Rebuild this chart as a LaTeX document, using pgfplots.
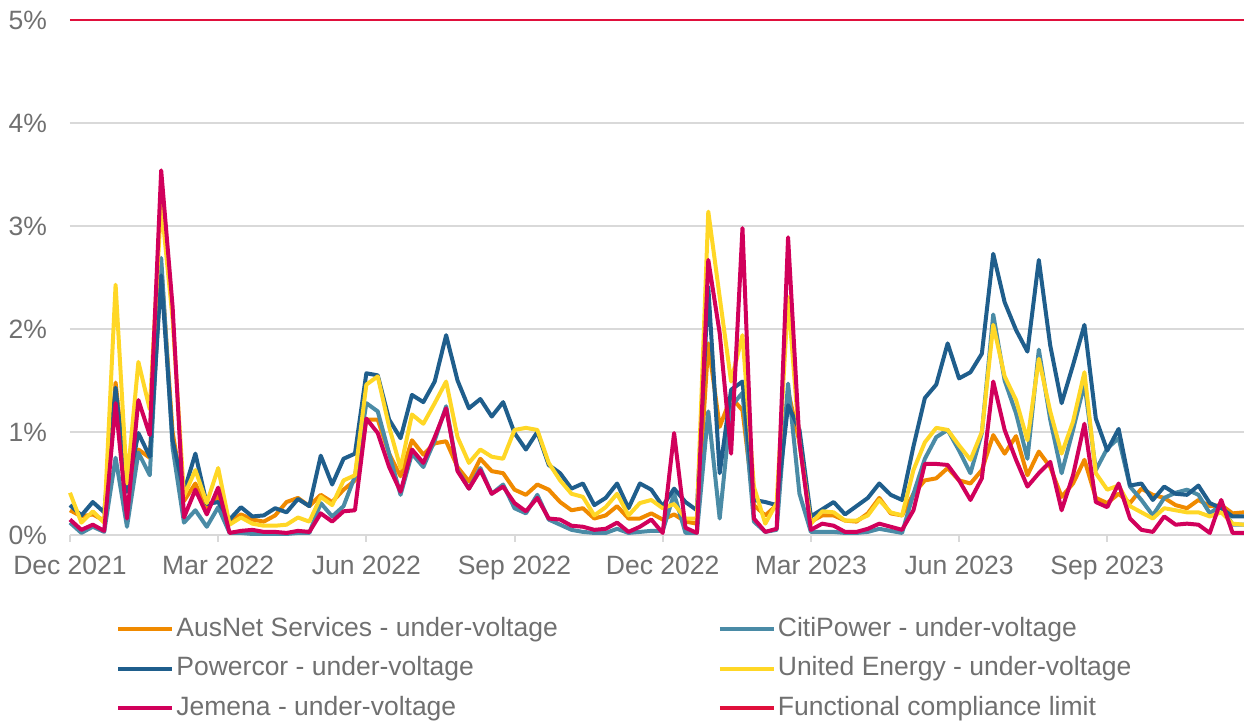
\documentclass[border=0pt]{standalone}
\usepackage{fontspec}
\setmainfont{Liberation Sans}
\usepackage{xcolor}
\usepackage{pgfplots}
\usepackage{pgfplotstable}
\pgfplotsset{compat=1.18}
\definecolor{ausnet}{HTML}{F08A00}
\definecolor{citi}{HTML}{4A8BA6}
\definecolor{powercor}{HTML}{1F5E8C}
\definecolor{ue}{HTML}{FFD726}
\definecolor{jemena}{HTML}{D1005B}
\definecolor{limit}{HTML}{E0103C}
\definecolor{gridgray}{HTML}{D9D9D9}
\definecolor{textgray}{HTML}{707070}

% weekly share of customers, %; x = week index from Dec 2021
\pgfplotstableread{
x ausnet citi powercor ue jemena
0 0.24 0.12 0.29 0.41 0.15
1 0.18 0.02 0.19 0.12 0.05
2 0.20 0.08 0.32 0.23 0.10
3 0.14 0.03 0.22 0.12 0.04
4 1.48 0.75 1.43 2.43 1.28
5 0.45 0.08 0.42 0.50 0.16
6 0.83 0.80 0.99 1.68 1.31
7 0.75 0.58 0.76 1.22 0.97
8 2.62 2.69 2.52 3.22 3.54
9 1.00 0.85 0.92 2.10 2.22
10 0.33 0.12 0.42 0.38 0.17
11 0.50 0.24 0.79 0.63 0.44
12 0.25 0.08 0.30 0.31 0.20
13 0.38 0.27 0.32 0.65 0.46
14 0.13 0.02 0.15 0.10 0.02
15 0.20 0.02 0.27 0.17 0.04
16 0.15 0.01 0.18 0.11 0.05
17 0.13 0.01 0.19 0.09 0.03
18 0.19 0.01 0.26 0.09 0.03
19 0.32 0.01 0.22 0.10 0.02
20 0.36 0.02 0.35 0.17 0.04
21 0.28 0.02 0.28 0.13 0.03
22 0.39 0.31 0.77 0.37 0.21
23 0.32 0.18 0.49 0.29 0.13
24 0.44 0.28 0.74 0.53 0.23
25 0.53 0.57 0.79 0.58 0.24
26 1.12 1.28 1.57 1.46 1.13
27 1.12 1.20 1.55 1.54 0.99
28 0.79 0.79 1.12 1.05 0.66
29 0.57 0.39 0.94 0.65 0.42
30 0.92 0.79 1.36 1.17 0.83
31 0.78 0.66 1.29 1.08 0.70
32 0.89 0.92 1.49 1.28 0.95
33 0.91 1.25 1.94 1.49 1.23
34 0.66 0.63 1.50 0.95 0.62
35 0.52 0.45 1.23 0.70 0.45
36 0.74 0.65 1.32 0.83 0.63
37 0.62 0.40 1.15 0.76 0.40
38 0.60 0.49 1.29 0.74 0.47
39 0.44 0.26 0.99 1.02 0.31
40 0.39 0.21 0.83 1.04 0.23
41 0.49 0.39 1.00 1.02 0.36
42 0.44 0.15 0.68 0.70 0.16
43 0.32 0.10 0.60 0.53 0.15
44 0.24 0.05 0.45 0.40 0.09
45 0.26 0.03 0.50 0.37 0.08
46 0.16 0.02 0.29 0.19 0.05
47 0.19 0.02 0.36 0.27 0.06
48 0.28 0.06 0.50 0.40 0.12
49 0.16 0.02 0.26 0.19 0.03
50 0.16 0.03 0.50 0.31 0.08
51 0.21 0.04 0.44 0.34 0.15
52 0.15 0.04 0.28 0.26 0.02
53 0.20 0.40 0.45 0.30 0.99
54 0.13 0.02 0.32 0.16 0.07
55 0.11 0.02 0.24 0.16 0.02
56 1.86 1.20 2.41 3.14 2.67
57 1.05 0.16 0.60 2.31 1.96
58 1.34 1.25 1.41 1.49 0.79
59 1.21 1.38 1.49 1.94 2.98
60 0.29 0.13 0.34 0.47 0.16
61 0.19 0.03 0.32 0.11 0.03
62 0.29 0.05 0.29 0.31 0.06
63 1.40 1.47 1.26 2.31 2.89
64 0.90 0.40 1.02 0.89 0.90
65 0.13 0.03 0.18 0.11 0.05
66 0.19 0.03 0.25 0.23 0.11
67 0.19 0.03 0.32 0.22 0.09
68 0.14 0.02 0.20 0.14 0.03
69 0.13 0.02 0.28 0.14 0.03
70 0.21 0.03 0.36 0.19 0.06
71 0.36 0.06 0.50 0.34 0.11
72 0.21 0.04 0.39 0.22 0.08
73 0.19 0.02 0.34 0.19 0.05
74 0.40 0.40 0.86 0.63 0.24
75 0.53 0.74 1.33 0.90 0.69
76 0.55 0.95 1.46 1.04 0.69
77 0.65 1.02 1.86 1.02 0.68
78 0.53 0.82 1.52 0.87 0.53
79 0.50 0.60 1.58 0.73 0.34
80 0.63 0.99 1.76 1.00 0.55
81 0.97 2.14 2.73 2.04 1.49
82 0.79 1.50 2.26 1.54 1.02
83 0.96 1.18 1.99 1.31 0.73
84 0.58 0.74 1.78 0.92 0.47
85 0.81 1.80 2.67 1.71 0.60
86 0.66 1.12 1.84 1.20 0.71
87 0.37 0.60 1.28 0.79 0.24
88 0.50 1.02 1.65 1.10 0.58
89 0.73 1.47 2.04 1.58 1.08
90 0.36 0.63 1.13 0.60 0.32
91 0.31 0.84 0.82 0.44 0.27
92 0.40 0.94 1.03 0.48 0.50
93 0.31 0.47 0.48 0.28 0.16
94 0.45 0.34 0.50 0.22 0.05
95 0.39 0.19 0.34 0.16 0.03
96 0.36 0.36 0.47 0.26 0.18
97 0.29 0.41 0.40 0.24 0.10
98 0.26 0.44 0.39 0.22 0.11
99 0.34 0.39 0.48 0.22 0.10
100 0.28 0.21 0.31 0.18 0.02
101 0.29 0.29 0.26 0.22 0.34
102 0.21 0.10 0.18 0.11 0.02
103 0.22 0.10 0.18 0.10 0.02
}\uvdata

\begin{document}
\begin{tikzpicture}
\useasboundingbox (-35pt,-93pt) rectangle (587pt,267.5pt);
\begin{axis}[
    at={(0,0)}, anchor=south west,
    scale only axis,
    width=587pt, height=257.5pt,
    xmin=0, xmax=103,
    ymin=0, ymax=5,
    clip=false,
    axis x line*=bottom,
    axis y line*=left,
    x axis line style={draw=gridgray, line width=1pt, -},
    y axis line style={draw=none},
    xtick={0,13,26,39,52,65,78,91},
    xticklabels={Dec 2021,Mar 2022,Jun 2022,Sep 2022,Dec 2022,Mar 2023,Jun 2023,Sep 2023},
    xtick style={draw=gridgray, line width=1pt},
    ytick style={draw=none},
    tick align=outside,
    major tick length=3.5pt,
    ytick={0,1,2,3,4,5},
    yticklabels={0\%,1\%,2\%,3\%,4\%,5\%},
    ymajorgrids,
    grid style={gridgray, line width=1pt},
    tick label style={font=\fontsize{13.25}{15}\selectfont, text=textgray},
    xticklabel style={anchor=base, yshift=-16.5pt},
    yticklabel style={anchor=east, xshift=-4.5pt},
    every axis plot/.append style={line width=2pt, line join=round},
    legend columns=2,
    legend cell align=left,
    legend image code/.code={\draw[#1, line width=2pt] (0pt,0pt) -- (27pt,0pt);},
    legend style={
        draw=none, fill=none,
        at={(0,0)}, anchor=north west,
        xshift=23pt, yshift=-40pt,
        font=\fontsize{13.25}{15}\selectfont, text=textgray,
        inner sep=0pt,
        nodes={inner sep=1pt, text height=9.5pt, text depth=2.5pt},
        row sep=5.75pt,
        /tikz/column 2/.style={column sep=79pt},
    },
]
\addplot[ausnet] table[x=x, y=ausnet] {\uvdata};
\addlegendentry{AusNet Services - under-voltage}
\addplot[citi] table[x=x, y=citi] {\uvdata};
\addlegendentry{CitiPower - under-voltage}
\addplot[powercor] table[x=x, y=powercor] {\uvdata};
\addlegendentry{Powercor - under-voltage}
\addplot[ue] table[x=x, y=ue] {\uvdata};
\addlegendentry{United Energy - under-voltage}
\addplot[jemena] table[x=x, y=jemena] {\uvdata};
\addlegendentry{Jemena - under-voltage}
\addplot[limit, line width=1.2pt] coordinates {(0,5) (103,5)};
\addlegendentry{Functional compliance limit}
\end{axis}
\end{tikzpicture}
\end{document}
